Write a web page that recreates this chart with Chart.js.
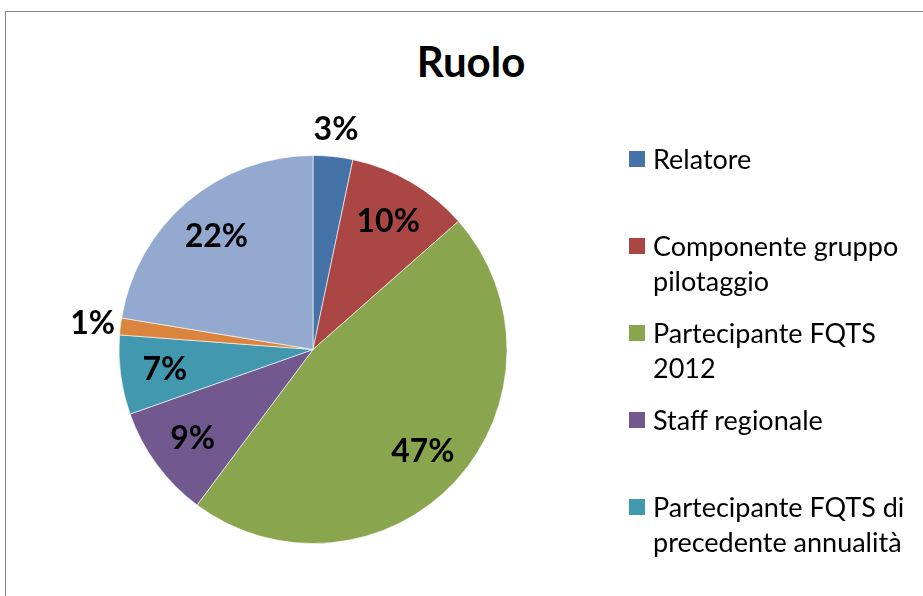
<!DOCTYPE html>
<html lang="it">
<head>
<meta charset="utf-8">
<title>Ruolo</title>
<script src="https://cdn.jsdelivr.net/npm/chart.js@4/dist/chart.umd.min.js"></script>
<style>
  html, body { margin: 0; padding: 0; background: #fff; overflow: hidden; }
  body { width: 923px; height: 596px; position: relative; font-family: Lato, "Noto Sans", sans-serif; }
  #cornice { position: absolute; left: 5px; top: 11px; width: 1000px; height: 700px; border: 1px solid #868686; box-sizing: border-box; }
  #titolo { position: absolute; left: 371px; top: 36px; width: 200px; text-align: center; font-size: 42px; line-height: 50px; font-weight: bold; color: #000; }
  #box { position: absolute; left: 0; top: 0; width: 923px; height: 596px; }
  #legenda { position: absolute; left: 629px; top: 141px; }
  .voce { height: 87px; display: flex; align-items: flex-start; }
  .quadro { width: 16px; height: 16px; margin-top: 10px; margin-right: 8px; flex: none; }
  .testo { font-size: 27px; line-height: 35px; color: #000; white-space: nowrap; }
</style>
</head>
<body>
<div id="cornice"></div>
<div id="titolo"></div>
<div id="box"><canvas id="grafico"></canvas></div>
<div id="legenda"></div>

<script>
// dati (percentuali stimate)
const titolo = 'Ruolo';
const categorie = [
  ['Relatore'],
  ['Componente gruppo', 'pilotaggio'],
  ['Partecipante FQTS', '2012'],
  ['Staff regionale'],
  ['Partecipante FQTS di', 'precedente annualità'],
  ['Altro'],
  ['Non indicato']
];
const valori = [3.3, 10.2, 46.7, 9.4, 6.6, 1.4, 22.4];
const colori = ['#4572A7', '#AA4643', '#89A54E', '#71588F', '#4198AF', '#DB843D', '#93A9CF'];
const vociInLegenda = 5; // nell'originale la legenda è tagliata dopo la quinta voce

document.getElementById('titolo').textContent = titolo;

// etichette percentuali sulle fette
const etichette = {
  id: 'etichette',
  afterDatasetsDraw(chart) {
    const ctx = chart.ctx;
    const meta = chart.getDatasetMeta(0);
    const totale = valori.reduce((a, b) => a + b, 0);
    ctx.save();
    ctx.font = 'bold 32px Lato, "Noto Sans", sans-serif';
    ctx.fillStyle = '#000';
    ctx.textAlign = 'center';
    ctx.textBaseline = 'middle';
    meta.data.forEach((arc, i) => {
      const p = arc.getProps(['x', 'y', 'startAngle', 'endAngle', 'outerRadius'], true);
      const medio = (p.startAngle + p.endAngle) / 2;
      const perc = valori[i] / totale * 100;
      const r = perc < 5 ? p.outerRadius + 28 : p.outerRadius * 0.77;
      const x = p.x + Math.cos(medio) * r;
      const y = p.y + Math.sin(medio) * r;
      ctx.fillText(Math.round(perc) + '%', x, y + 1);
    });
    ctx.restore();
  }
};

const grafico = new Chart(document.getElementById('grafico'), {
  type: 'pie',
  data: {
    labels: categorie,
    datasets: [{
      data: valori,
      backgroundColor: colori,
      borderColor: 'rgba(255,255,255,0.6)',
      borderWidth: 1
    }]
  },
  options: {
    responsive: true,
    maintainAspectRatio: false,
    animation: false,
    layout: {
      padding: { top: 155, bottom: 52, left: 10, right: 307 }
    },
    plugins: {
      legend: { display: false },
      tooltip: { enabled: false },
      title: { display: false }
    }
  },
  plugins: [etichette]
});

// legenda HTML (solo le voci visibili)
const legenda = document.getElementById('legenda');
categorie.slice(0, vociInLegenda).forEach((righe, i) => {
  const voce = document.createElement('div');
  voce.className = 'voce';
  const quadro = document.createElement('div');
  quadro.className = 'quadro';
  quadro.style.background = colori[i];
  const testo = document.createElement('div');
  testo.className = 'testo';
  testo.innerHTML = righe.join('<br>');
  voce.appendChild(quadro);
  voce.appendChild(testo);
  legenda.appendChild(voce);
});
</script>
</body>
</html>
